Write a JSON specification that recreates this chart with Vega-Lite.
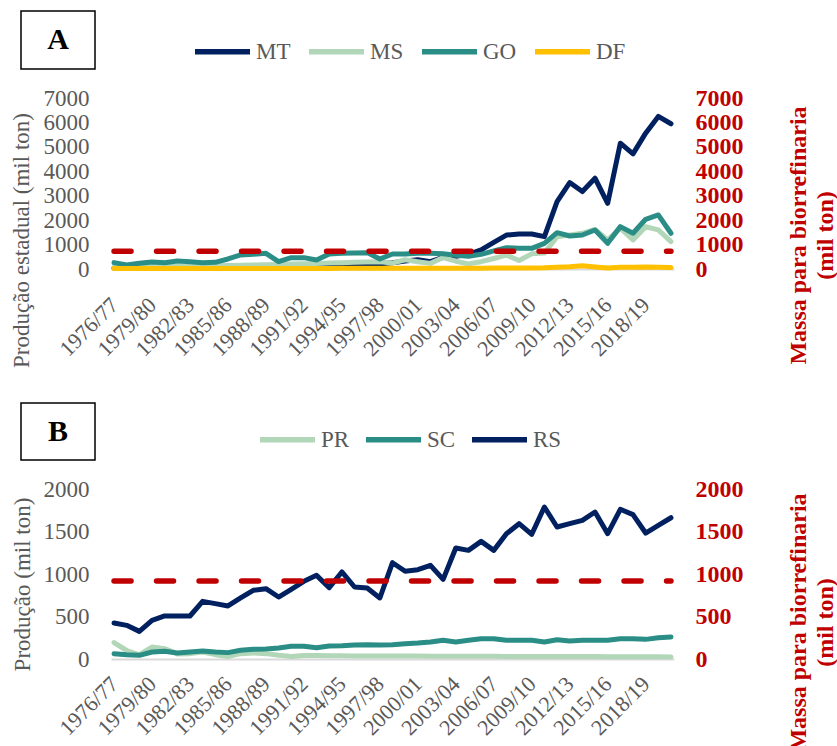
{
"$schema": "https://vega.github.io/schema/vega-lite/v6.json",
"padding": {"left": 10, "top": 5, "right": 0, "bottom": 0},
"config": {"font": "Liberation Serif", "view": {"stroke": null}, "axis": {"grid": false, "ticks": false, "tickSize": 0, "labelFont": "Liberation Serif", "titleFont": "Liberation Serif"}, "legend": {"labelFont": "Liberation Serif"}},
"columns": 2,
"align": "each",
"bounds": "flush",
"spacing": {"row": 29, "column": 16},
"resolve": {"scale": {"x": "independent", "y": "independent", "color": "independent"}, "legend": {"color": "independent"}},
"concat": [
{"width": 74, "height": 58, "view": {"stroke": "black", "strokeWidth": 1.5}, "data": {"values": [{"label": "A"}]}, "mark": {"type": "text", "fontSize": 30, "fontWeight": "bold", "font": "Liberation Serif", "color": "black", "align": "center", "baseline": "middle"}, "encoding": {"text": {"field": "label"}}},
{"width": 1, "height": 1, "data": {"values": [{"t": ""}]}, "mark": {"type": "text"}, "encoding": {"text": {"field": "t"}}},
{"width": 1, "height": 276, "data": {"values": [{"t": ""}]}, "mark": {"type": "text"}, "encoding": {"text": {"field": "t"}}},
{"width": 563, "height": 171,
 "layer": [
  {"data": {"name": "A"},
   "mark": {"type": "line", "strokeWidth": 5, "strokeJoin": "round", "strokeCap": "round"},
   "encoding": {
    "x": {"field": "season", "type": "ordinal", "title": null,
      "scale": {"type": "point", "padding": 0.24},
      "axis": {"title": null, "values": ["1976/77","1979/80","1982/83","1985/86","1988/89","1991/92","1994/95","1997/98","2000/01","2003/04","2006/07","2009/10","2012/13","2015/16","2018/19"], "labelAngle": -45, "labelAlign": "right", "labelBaseline": "middle", "labelFontSize": 22, "labelColor": "#595959", "labelPadding": 32, "labelOverlap": false, "domain": true, "domainColor": "#D9D9D9", "domainWidth": 2, "ticks": false}},
    "y": {"field": "value", "type": "quantitative", "scale": {"domain": [0, 7000], "nice": false},
      "axis": {"orient": "left", "values": [0,1000,2000,3000,4000,5000,6000,7000], "format": "d", "domain": false, "ticks": false, "grid": false, "labelFontSize": 23, "labelColor": "#595959", "labelPadding": 22, "title": "Produção estadual (mil ton)", "titleFontSize": 23, "titleColor": "#595959", "titleFontWeight": "normal", "titleAngle": 270, "titleAlign": "center", "titleBaseline": "middle", "titleX": -90, "titleY": 142}},
    "color": {"field": "state", "type": "nominal",
      "scale": {"domain": ["MT","MS","GO","DF"], "range": ["#002060","#B2D6B8","#2A8E86","#FFC000"]},
      "legend": {"orient": "none", "legendX": 81, "legendY": -77, "direction": "horizontal", "columns": 4, "title": null, "symbolType": "stroke", "symbolSize": 3025, "symbolStrokeWidth": 5.5, "labelFontSize": 23, "labelColor": "#595959", "labelOffset": 3, "columnPadding": 7}}
   }},
  {"data": {"values": [{"start": "1976/77", "end": "2020/21", "massa": 730}]},
   "mark": {"type": "rule", "color": "#C00000", "strokeWidth": 5.5, "strokeDash": [17, 25.5], "strokeCap": "round"},
   "encoding": {
    "x": {"field": "start", "type": "ordinal", "title": null},
    "x2": {"field": "end"},
    "y": {"field": "massa", "type": "quantitative", "scale": {"domain": [0, 7000], "nice": false},
      "axis": {"orient": "right", "values": [0,1000,2000,3000,4000,5000,6000,7000], "format": "d", "domain": false, "ticks": false, "grid": false, "labelFontSize": 24, "labelFontWeight": "bold", "labelColor": "#C00000", "labelPadding": 21, "title": ["Massa para biorrefinaria", "(mil ton)"], "titleFontSize": 24, "titleColor": "#C00000", "titleFontWeight": "bold", "titleAngle": 270, "titleAlign": "center", "titleBaseline": "middle", "titleLineHeight": 27, "titleX": 124, "titleY": 137}}
   }}
 ],
 "resolve": {"scale": {"y": "independent"}, "axis": {"y": "independent"}}
},
{"width": 74, "height": 57, "view": {"stroke": "black", "strokeWidth": 1.5}, "data": {"values": [{"label": "B"}]}, "mark": {"type": "text", "fontSize": 30, "fontWeight": "bold", "font": "Liberation Serif", "color": "black", "align": "center", "baseline": "middle"}, "encoding": {"text": {"field": "label"}}},
{"width": 1, "height": 1, "data": {"values": [{"t": ""}]}, "mark": {"type": "text"}, "encoding": {"text": {"field": "t"}}},
{"width": 1, "height": 1, "data": {"values": [{"t": ""}]}, "mark": {"type": "text"}, "encoding": {"text": {"field": "t"}}},
{"width": 563, "height": 170,
 "layer": [
  {"data": {"name": "B"},
   "mark": {"type": "line", "strokeWidth": 5, "strokeJoin": "round", "strokeCap": "round"},
   "encoding": {
    "x": {"field": "season", "type": "ordinal", "title": null,
      "scale": {"type": "point", "padding": 0.24},
      "axis": {"title": null, "values": ["1976/77","1979/80","1982/83","1985/86","1988/89","1991/92","1994/95","1997/98","2000/01","2003/04","2006/07","2009/10","2012/13","2015/16","2018/19"], "labelAngle": -45, "labelAlign": "right", "labelBaseline": "middle", "labelFontSize": 22, "labelColor": "#595959", "labelPadding": 21, "labelOverlap": false, "domain": true, "domainColor": "#D9D9D9", "domainWidth": 2, "ticks": false}},
    "y": {"field": "value", "type": "quantitative", "scale": {"domain": [0, 2000], "nice": false},
      "axis": {"orient": "left", "values": [0,500,1000,1500,2000], "format": "d", "domain": false, "ticks": false, "grid": false, "labelFontSize": 23, "labelColor": "#595959", "labelPadding": 22, "title": "Produção (mil ton)", "titleFontSize": 23, "titleColor": "#595959", "titleFontWeight": "normal", "titleAngle": 270, "titleAlign": "center", "titleBaseline": "middle", "titleX": -89, "titleY": 95}},
    "color": {"field": "state", "type": "nominal",
      "scale": {"domain": ["PR","SC","RS"], "range": ["#B2D6B8","#2A8E86","#002060"]},
      "legend": {"orient": "none", "legendX": 146, "legendY": -80, "direction": "horizontal", "columns": 3, "title": null, "symbolType": "stroke", "symbolSize": 3025, "symbolStrokeWidth": 5.5, "labelFontSize": 23, "labelColor": "#595959", "labelOffset": 3, "columnPadding": 5}}
   }},
  {"data": {"values": [{"start": "1976/77", "end": "2020/21", "massa": 918}]},
   "mark": {"type": "rule", "color": "#C00000", "strokeWidth": 5.5, "strokeDash": [17, 25.5], "strokeCap": "round"},
   "encoding": {
    "x": {"field": "start", "type": "ordinal", "title": null},
    "x2": {"field": "end"},
    "y": {"field": "massa", "type": "quantitative", "scale": {"domain": [0, 2000], "nice": false},
      "axis": {"orient": "right", "values": [0,500,1000,1500,2000], "format": "d", "domain": false, "ticks": false, "grid": false, "labelFontSize": 24, "labelFontWeight": "bold", "labelColor": "#C00000", "labelPadding": 21, "title": ["Massa para biorrefinaria", "(mil ton)"], "titleFontSize": 24, "titleColor": "#C00000", "titleFontWeight": "bold", "titleAngle": 270, "titleAlign": "center", "titleBaseline": "middle", "titleLineHeight": 27, "titleX": 124, "titleY": 133}}
   }}
 ],
 "resolve": {"scale": {"y": "independent"}, "axis": {"y": "independent"}}
}
],
"datasets": {
"A": [
{"season":"1976/77","state":"MT","value":40},{"season":"1977/78","state":"MT","value":40},{"season":"1978/79","state":"MT","value":50},{"season":"1979/80","state":"MT","value":60},{"season":"1980/81","state":"MT","value":60},{"season":"1981/82","state":"MT","value":70},{"season":"1982/83","state":"MT","value":80},{"season":"1983/84","state":"MT","value":90},{"season":"1984/85","state":"MT","value":100},{"season":"1985/86","state":"MT","value":110},{"season":"1986/87","state":"MT","value":120},{"season":"1987/88","state":"MT","value":130},{"season":"1988/89","state":"MT","value":140},{"season":"1989/90","state":"MT","value":150},{"season":"1990/91","state":"MT","value":150},{"season":"1991/92","state":"MT","value":160},{"season":"1992/93","state":"MT","value":160},{"season":"1993/94","state":"MT","value":170},{"season":"1994/95","state":"MT","value":180},{"season":"1995/96","state":"MT","value":190},{"season":"1996/97","state":"MT","value":200},{"season":"1997/98","state":"MT","value":210},{"season":"1998/99","state":"MT","value":260},{"season":"1999/00","state":"MT","value":330},{"season":"2000/01","state":"MT","value":380},{"season":"2001/02","state":"MT","value":300},{"season":"2002/03","state":"MT","value":480},{"season":"2003/04","state":"MT","value":520},{"season":"2004/05","state":"MT","value":600},{"season":"2005/06","state":"MT","value":780},{"season":"2006/07","state":"MT","value":1090},{"season":"2007/08","state":"MT","value":1390},{"season":"2008/09","state":"MT","value":1435},{"season":"2009/10","state":"MT","value":1435},{"season":"2010/11","state":"MT","value":1325},{"season":"2011/12","state":"MT","value":2760},{"season":"2012/13","state":"MT","value":3540},{"season":"2013/14","state":"MT","value":3170},{"season":"2014/15","state":"MT","value":3715},{"season":"2015/16","state":"MT","value":2690},{"season":"2016/17","state":"MT","value":5150},{"season":"2017/18","state":"MT","value":4715},{"season":"2018/19","state":"MT","value":5560},{"season":"2019/20","state":"MT","value":6245},{"season":"2020/21","state":"MT","value":5945},
{"season":"1976/77","state":"MS","value":80},{"season":"1977/78","state":"MS","value":70},{"season":"1978/79","state":"MS","value":90},{"season":"1979/80","state":"MS","value":90},{"season":"1980/81","state":"MS","value":100},{"season":"1981/82","state":"MS","value":100},{"season":"1982/83","state":"MS","value":110},{"season":"1983/84","state":"MS","value":110},{"season":"1984/85","state":"MS","value":120},{"season":"1985/86","state":"MS","value":130},{"season":"1986/87","state":"MS","value":150},{"season":"1987/88","state":"MS","value":160},{"season":"1988/89","state":"MS","value":170},{"season":"1989/90","state":"MS","value":170},{"season":"1990/91","state":"MS","value":200},{"season":"1991/92","state":"MS","value":220},{"season":"1992/93","state":"MS","value":230},{"season":"1993/94","state":"MS","value":250},{"season":"1994/95","state":"MS","value":260},{"season":"1995/96","state":"MS","value":280},{"season":"1996/97","state":"MS","value":290},{"season":"1997/98","state":"MS","value":300},{"season":"1998/99","state":"MS","value":240},{"season":"1999/00","state":"MS","value":380},{"season":"2000/01","state":"MS","value":300},{"season":"2001/02","state":"MS","value":230},{"season":"2002/03","state":"MS","value":470},{"season":"2003/04","state":"MS","value":320},{"season":"2004/05","state":"MS","value":210},{"season":"2005/06","state":"MS","value":300},{"season":"2006/07","state":"MS","value":430},{"season":"2007/08","state":"MS","value":570},{"season":"2008/09","state":"MS","value":350},{"season":"2009/10","state":"MS","value":620},{"season":"2010/11","state":"MS","value":650},{"season":"2011/12","state":"MS","value":1320},{"season":"2012/13","state":"MS","value":1390},{"season":"2013/14","state":"MS","value":1460},{"season":"2014/15","state":"MS","value":1620},{"season":"2015/16","state":"MS","value":1190},{"season":"2016/17","state":"MS","value":1670},{"season":"2017/18","state":"MS","value":1190},{"season":"2018/19","state":"MS","value":1730},{"season":"2019/20","state":"MS","value":1600},{"season":"2020/21","state":"MS","value":1120},
{"season":"1976/77","state":"GO","value":260},{"season":"1977/78","state":"GO","value":164},{"season":"1978/79","state":"GO","value":232},{"season":"1979/80","state":"GO","value":287},{"season":"1980/81","state":"GO","value":260},{"season":"1981/82","state":"GO","value":328},{"season":"1982/83","state":"GO","value":301},{"season":"1983/84","state":"GO","value":260},{"season":"1984/85","state":"GO","value":273},{"season":"1985/86","state":"GO","value":410},{"season":"1986/87","state":"GO","value":574},{"season":"1987/88","state":"GO","value":601},{"season":"1988/89","state":"GO","value":642},{"season":"1989/90","state":"GO","value":301},{"season":"1990/91","state":"GO","value":465},{"season":"1991/92","state":"GO","value":465},{"season":"1992/93","state":"GO","value":369},{"season":"1993/94","state":"GO","value":615},{"season":"1994/95","state":"GO","value":642},{"season":"1995/96","state":"GO","value":656},{"season":"1996/97","state":"GO","value":670},{"season":"1997/98","state":"GO","value":410},{"season":"1998/99","state":"GO","value":615},{"season":"1999/00","state":"GO","value":615},{"season":"2000/01","state":"GO","value":642},{"season":"2001/02","state":"GO","value":642},{"season":"2002/03","state":"GO","value":620},{"season":"2003/04","state":"GO","value":560},{"season":"2004/05","state":"GO","value":520},{"season":"2005/06","state":"GO","value":600},{"season":"2006/07","state":"GO","value":740},{"season":"2007/08","state":"GO","value":874},{"season":"2008/09","state":"GO","value":850},{"season":"2009/10","state":"GO","value":847},{"season":"2010/11","state":"GO","value":1051},{"season":"2011/12","state":"GO","value":1488},{"season":"2012/13","state":"GO","value":1352},{"season":"2013/14","state":"GO","value":1393},{"season":"2014/15","state":"GO","value":1598},{"season":"2015/16","state":"GO","value":1051},{"season":"2016/17","state":"GO","value":1735},{"season":"2017/18","state":"GO","value":1462},{"season":"2018/19","state":"GO","value":2035},{"season":"2019/20","state":"GO","value":2213},{"season":"2020/21","state":"GO","value":1462},
{"season":"1976/77","state":"DF","value":20},{"season":"1977/78","state":"DF","value":20},{"season":"1978/79","state":"DF","value":20},{"season":"1979/80","state":"DF","value":20},{"season":"1980/81","state":"DF","value":20},{"season":"1981/82","state":"DF","value":20},{"season":"1982/83","state":"DF","value":20},{"season":"1983/84","state":"DF","value":25},{"season":"1984/85","state":"DF","value":25},{"season":"1985/86","state":"DF","value":25},{"season":"1986/87","state":"DF","value":25},{"season":"1987/88","state":"DF","value":25},{"season":"1988/89","state":"DF","value":25},{"season":"1989/90","state":"DF","value":25},{"season":"1990/91","state":"DF","value":25},{"season":"1991/92","state":"DF","value":25},{"season":"1992/93","state":"DF","value":25},{"season":"1993/94","state":"DF","value":25},{"season":"1994/95","state":"DF","value":30},{"season":"1995/96","state":"DF","value":30},{"season":"1996/97","state":"DF","value":30},{"season":"1997/98","state":"DF","value":30},{"season":"1998/99","state":"DF","value":30},{"season":"1999/00","state":"DF","value":30},{"season":"2000/01","state":"DF","value":30},{"season":"2001/02","state":"DF","value":30},{"season":"2002/03","state":"DF","value":30},{"season":"2003/04","state":"DF","value":35},{"season":"2004/05","state":"DF","value":35},{"season":"2005/06","state":"DF","value":35},{"season":"2006/07","state":"DF","value":40},{"season":"2007/08","state":"DF","value":40},{"season":"2008/09","state":"DF","value":40},{"season":"2009/10","state":"DF","value":45},{"season":"2010/11","state":"DF","value":50},{"season":"2011/12","state":"DF","value":70},{"season":"2012/13","state":"DF","value":90},{"season":"2013/14","state":"DF","value":130},{"season":"2014/15","state":"DF","value":80},{"season":"2015/16","state":"DF","value":40},{"season":"2016/17","state":"DF","value":70},{"season":"2017/18","state":"DF","value":70},{"season":"2018/19","state":"DF","value":80},{"season":"2019/20","state":"DF","value":75},{"season":"2020/21","state":"DF","value":60}
],
"B": [
{"season":"1976/77","state":"PR","value":192},{"season":"1977/78","state":"PR","value":100},{"season":"1978/79","state":"PR","value":50},{"season":"1979/80","state":"PR","value":141},{"season":"1980/81","state":"PR","value":122},{"season":"1981/82","state":"PR","value":60},{"season":"1982/83","state":"PR","value":63},{"season":"1983/84","state":"PR","value":82},{"season":"1984/85","state":"PR","value":51},{"season":"1985/86","state":"PR","value":30},{"season":"1986/87","state":"PR","value":63},{"season":"1987/88","state":"PR","value":71},{"season":"1988/89","state":"PR","value":63},{"season":"1989/90","state":"PR","value":43},{"season":"1990/91","state":"PR","value":30},{"season":"1991/92","state":"PR","value":40},{"season":"1992/93","state":"PR","value":40},{"season":"1993/94","state":"PR","value":38},{"season":"1994/95","state":"PR","value":38},{"season":"1995/96","state":"PR","value":36},{"season":"1996/97","state":"PR","value":36},{"season":"1997/98","state":"PR","value":35},{"season":"1998/99","state":"PR","value":35},{"season":"1999/00","state":"PR","value":34},{"season":"2000/01","state":"PR","value":34},{"season":"2001/02","state":"PR","value":33},{"season":"2002/03","state":"PR","value":33},{"season":"2003/04","state":"PR","value":32},{"season":"2004/05","state":"PR","value":32},{"season":"2005/06","state":"PR","value":31},{"season":"2006/07","state":"PR","value":31},{"season":"2007/08","state":"PR","value":30},{"season":"2008/09","state":"PR","value":30},{"season":"2009/10","state":"PR","value":30},{"season":"2010/11","state":"PR","value":29},{"season":"2011/12","state":"PR","value":29},{"season":"2012/13","state":"PR","value":28},{"season":"2013/14","state":"PR","value":28},{"season":"2014/15","state":"PR","value":28},{"season":"2015/16","state":"PR","value":27},{"season":"2016/17","state":"PR","value":27},{"season":"2017/18","state":"PR","value":26},{"season":"2018/19","state":"PR","value":26},{"season":"2019/20","state":"PR","value":26},{"season":"2020/21","state":"PR","value":25},
{"season":"1976/77","state":"SC","value":63},{"season":"1977/78","state":"SC","value":51},{"season":"1978/79","state":"SC","value":43},{"season":"1979/80","state":"SC","value":82},{"season":"1980/81","state":"SC","value":90},{"season":"1981/82","state":"SC","value":71},{"season":"1982/83","state":"SC","value":82},{"season":"1983/84","state":"SC","value":94},{"season":"1984/85","state":"SC","value":82},{"season":"1985/86","state":"SC","value":75},{"season":"1986/87","state":"SC","value":102},{"season":"1987/88","state":"SC","value":114},{"season":"1988/89","state":"SC","value":118},{"season":"1989/90","state":"SC","value":129},{"season":"1990/91","state":"SC","value":149},{"season":"1991/92","state":"SC","value":149},{"season":"1992/93","state":"SC","value":133},{"season":"1993/94","state":"SC","value":153},{"season":"1994/95","state":"SC","value":157},{"season":"1995/96","state":"SC","value":165},{"season":"1996/97","state":"SC","value":169},{"season":"1997/98","state":"SC","value":165},{"season":"1998/99","state":"SC","value":169},{"season":"1999/00","state":"SC","value":180},{"season":"2000/01","state":"SC","value":188},{"season":"2001/02","state":"SC","value":200},{"season":"2002/03","state":"SC","value":220},{"season":"2003/04","state":"SC","value":200},{"season":"2004/05","state":"SC","value":220},{"season":"2005/06","state":"SC","value":239},{"season":"2006/07","state":"SC","value":239},{"season":"2007/08","state":"SC","value":220},{"season":"2008/09","state":"SC","value":220},{"season":"2009/10","state":"SC","value":220},{"season":"2010/11","state":"SC","value":200},{"season":"2011/12","state":"SC","value":227},{"season":"2012/13","state":"SC","value":212},{"season":"2013/14","state":"SC","value":220},{"season":"2014/15","state":"SC","value":220},{"season":"2015/16","state":"SC","value":220},{"season":"2016/17","state":"SC","value":239},{"season":"2017/18","state":"SC","value":239},{"season":"2018/19","state":"SC","value":231},{"season":"2019/20","state":"SC","value":251},{"season":"2020/21","state":"SC","value":259},
{"season":"1976/77","state":"RS","value":424},{"season":"1977/78","state":"RS","value":396},{"season":"1978/79","state":"RS","value":325},{"season":"1979/80","state":"RS","value":455},{"season":"1980/81","state":"RS","value":506},{"season":"1981/82","state":"RS","value":506},{"season":"1982/83","state":"RS","value":506},{"season":"1983/84","state":"RS","value":678},{"season":"1984/85","state":"RS","value":651},{"season":"1985/86","state":"RS","value":624},{"season":"1986/87","state":"RS","value":718},{"season":"1987/88","state":"RS","value":808},{"season":"1988/89","state":"RS","value":827},{"season":"1989/90","state":"RS","value":729},{"season":"1990/91","state":"RS","value":820},{"season":"1991/92","state":"RS","value":914},{"season":"1992/93","state":"RS","value":984},{"season":"1993/94","state":"RS","value":839},{"season":"1994/95","state":"RS","value":1024},{"season":"1995/96","state":"RS","value":847},{"season":"1996/97","state":"RS","value":835},{"season":"1997/98","state":"RS","value":718},{"season":"1998/99","state":"RS","value":1133},{"season":"1999/00","state":"RS","value":1032},{"season":"2000/01","state":"RS","value":1051},{"season":"2001/02","state":"RS","value":1102},{"season":"2002/03","state":"RS","value":937},{"season":"2003/04","state":"RS","value":1306},{"season":"2004/05","state":"RS","value":1278},{"season":"2005/06","state":"RS","value":1384},{"season":"2006/07","state":"RS","value":1278},{"season":"2007/08","state":"RS","value":1474},{"season":"2008/09","state":"RS","value":1592},{"season":"2009/10","state":"RS","value":1467},{"season":"2010/11","state":"RS","value":1788},{"season":"2011/12","state":"RS","value":1553},{"season":"2012/13","state":"RS","value":1592},{"season":"2013/14","state":"RS","value":1631},{"season":"2014/15","state":"RS","value":1729},{"season":"2015/16","state":"RS","value":1474},{"season":"2016/17","state":"RS","value":1761},{"season":"2017/18","state":"RS","value":1698},{"season":"2018/19","state":"RS","value":1482},{"season":"2019/20","state":"RS","value":1573},{"season":"2020/21","state":"RS","value":1662}
]
}
}
